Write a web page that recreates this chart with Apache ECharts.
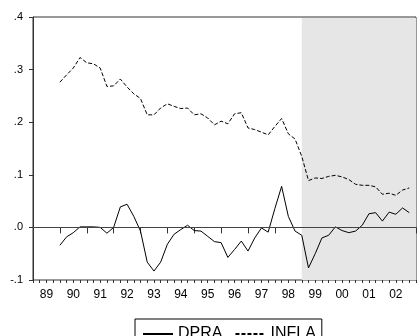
<!DOCTYPE html>
<html>
<head>
<meta charset="utf-8">
<script src="https://cdn.jsdelivr.net/npm/echarts@6/dist/echarts.min.js"></script>
<style>
html,body{margin:0;padding:0;background:#fff;}
#chart{width:419px;height:336px;}
</style>
</head>
<body>
<div id="chart"></div>
<script>
// Quarterly observations, 1990Q1 .. 2003Q1
const firstQuarter = {year: 1990, q: 1};
const axisStartYear = 1989;
const yearLabels = ['89','90','91','92','93','94','95','96','97','98','99','00','01','02'];
const dpra = [
  -0.034,-0.018,-0.010,0.001,0.001,0.001,0.000,-0.011,0.000,0.039,
  0.044,0.021,-0.007,-0.066,-0.083,-0.066,-0.032,-0.013,-0.004,0.004,
  -0.006,-0.007,-0.017,-0.027,-0.029,-0.057,-0.042,-0.026,-0.045,-0.020,
  -0.001,-0.009,0.036,0.078,0.021,-0.007,-0.015,-0.077,-0.050,-0.020,
  -0.015,0.001,-0.006,-0.010,-0.007,0.004,0.026,0.028,0.012,0.029,
  0.025,0.037,0.028
];
const infla = [
  0.276,0.290,0.303,0.323,0.313,0.311,0.303,0.268,0.269,0.282,
  0.267,0.254,0.245,0.214,0.214,0.227,0.235,0.230,0.226,0.227,
  0.214,0.216,0.208,0.195,0.202,0.197,0.216,0.218,0.189,0.186,
  0.181,0.176,0.192,0.207,0.178,0.168,0.135,0.089,0.094,0.093,
  0.097,0.099,0.096,0.091,0.082,0.080,0.080,0.077,0.063,0.065,
  0.061,0.071,0.075
];
const shadeStart = {year: 1999, q: 1};
const yTicks = [-0.1, 0.0, 0.1, 0.2, 0.3, 0.4];

function qIndex(y, q){ return (y - axisStartYear) * 4 + (q - 1); }
const x0 = qIndex(firstQuarter.year, firstQuarter.q);
const xs = dpra.map((_, i) => x0 + i);
const xMax = xs[xs.length - 1] + 1;

const font = 'Liberation Sans, Arial, sans-serif';
const chart = echarts.init(document.getElementById('chart'), null, {renderer: 'canvas'});
const qw = 6.92;
chart.setOption({
  animation: false,
  backgroundColor: '#fff',
  grid: {left: 33, top: 17, width: xMax * qw, height: 263, show: true,
         borderColor: '#333', borderWidth: 1, backgroundColor: 'transparent'},
  legend: {
    data: ['DPRA', 'INFLA'],
    left: 135, top: 319, orient: 'horizontal',
    itemWidth: 30, itemHeight: 14, itemGap: 12,
    padding: [7, 6, 7, 7],
    borderColor: '#000', borderWidth: 1, borderRadius: 0,
    itemStyle: {opacity: 0},
    textStyle: {fontSize: 16, fontFamily: font, color: '#000'}
  },
  xAxis: [
    {type: 'value', min: 0, max: xMax, interval: 4,
     axisLine: {show: true, lineStyle: {color: '#333', width: 1}},
     axisTick: {show: true, length: 6, lineStyle: {color: '#333'}},
     axisLabel: {show: false}, splitLine: {show: false}},
    {type: 'value', min: 0, max: xMax, interval: 1, position: 'bottom',
     axisLine: {show: false},
     axisTick: {show: true, length: 3, lineStyle: {color: '#333'}},
     splitLine: {show: false},
     axisLabel: {show: true, margin: 9, fontSize: 12, fontFamily: font, color: '#000',
       formatter: v => (v % 4 === 2 ? (yearLabels[(v - 2) / 4] || '') : '')}}
  ],
  yAxis: {
    type: 'value', min: yTicks[0], max: yTicks[yTicks.length - 1], interval: 0.1,
    axisLine: {show: true, lineStyle: {color: '#333', width: 1}},
    axisTick: {show: true, length: 4, lineStyle: {color: '#333'}},
    splitLine: {show: false},
    axisLabel: {margin: 10, fontSize: 11, fontFamily: font, color: '#000',
      formatter: v => v.toFixed(1).replace(/^(-?)0\./, '$1.')}
  },
  series: [
    {name: 'DPRA', type: 'line', xAxisIndex: 0, symbol: 'none', showSymbol: false,
     data: xs.map((x, i) => [x, dpra[i]]),
     lineStyle: {color: '#000', width: 1, type: 'solid'},
     itemStyle: {color: '#000'},
     markArea: {silent: true, itemStyle: {color: '#e6e6e6'},
       data: [[{xAxis: qIndex(shadeStart.year, shadeStart.q), yAxis: yTicks[0]},
               {xAxis: xMax, yAxis: 0.398}]]},
     markLine: {silent: true, symbol: 'none', label: {show: false},
       lineStyle: {color: '#444', width: 1, type: 'solid'},
       data: [{yAxis: 0}]},
     z: 3},
    {name: 'INFLA', type: 'line', xAxisIndex: 0, symbol: 'none', showSymbol: false,
     data: xs.map((x, i) => [x, infla[i]]),
     lineStyle: {color: '#000', width: 1, type: [4, 2]},
     itemStyle: {color: '#000'},
     z: 3}
  ]
});
</script>
</body>
</html>
